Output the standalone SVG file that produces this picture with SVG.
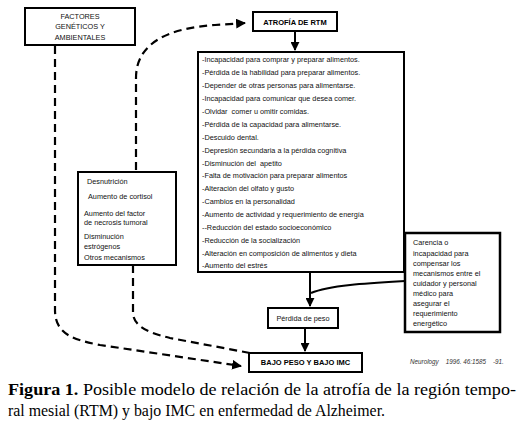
<svg xmlns="http://www.w3.org/2000/svg" width="523" height="425" viewBox="0 0 523 425">
<style>
.box{fill:#fff;stroke:#000;stroke-width:2}
.t{font-family:"Liberation Sans",Arial,sans-serif;font-size:7.3px;fill:#111}
.tb{font-family:"Liberation Sans",Arial,sans-serif;font-size:7.5px;font-weight:bold;fill:#000}
.dash{fill:none;stroke:#000;stroke-width:2.2;stroke-dasharray:8 5}
.solid{fill:none;stroke:#000;stroke-width:2}
.cap{font-family:"Liberation Serif","Times New Roman",serif;font-size:17px;fill:#000}
</style>
<defs>
<marker id="ah" viewBox="0 0 10 10" refX="9" refY="5" markerWidth="4.5" markerHeight="4.5" orient="auto" markerUnits="strokeWidth">
<path d="M0,0 L10,5 L0,10 Z" fill="#000"/>
</marker>
</defs>
<rect width="523" height="425" fill="#fff"/>
<g id="connectors">
<path class="dash" d="M55,46 L55,310 C55,335 75,340 100,345 L241,366" marker-end="url(#ah)"/>
<path class="dash" d="M133,265 L133,312 C133,325 145,332 170,338 L250,353"/>
<path class="dash" d="M136,170 L136,78 C136,42 170,28 215,25 L245,23" marker-end="url(#ah)"/>
<path class="solid" d="M295,31 L295,50" marker-end="url(#ah)"/>
<path class="solid" d="M310,272 L310,306" marker-end="url(#ah)"/>
<path class="solid" d="M405,281 C370,283 330,285 311,293"/>
<path class="solid" d="M305,328 L305,351" marker-end="url(#ah)"/>
</g>
<g id="factores">
<rect class="box" x="25" y="8" width="110" height="37"/>
<text class="t" text-anchor="middle" x="80" y="19">FACTORES</text>
<text class="t" text-anchor="middle" x="80" y="29">GENÉTICOS Y</text>
<text class="t" text-anchor="middle" x="80" y="40">AMBIENTALES</text>
</g>
<g id="atrofia">
<rect class="box" x="253" y="12" width="84" height="19"/>
<text class="tb" text-anchor="middle" x="295" y="24.5">ATROFÍA DE RTM</text>
</g>
<g id="lista">
<rect class="box" x="198" y="52" width="206" height="220"/>
<text class="t" x="202">
<tspan x="202" y="62">-Incapacidad para comprar y preparar alimentos.</tspan>
<tspan x="202" y="75">-Pérdida de la habilidad para preparar alimentos.</tspan>
<tspan x="202" y="88">-Depender de otras personas para alimentarse.</tspan>
<tspan x="202" y="101">-Incapacidad para comunicar que desea comer.</tspan>
<tspan x="202" y="114" style="white-space:pre">-Olvidar  comer u omitir comidas.</tspan>
<tspan x="202" y="126.5">-Pérdida de la capacidad para alimentarse.</tspan>
<tspan x="202" y="139.5">-Descuido dental.</tspan>
<tspan x="202" y="152.5">-Depresión secundaria a la pérdida cognitiva</tspan>
<tspan x="202" y="165.5" style="white-space:pre">-Disminución del  apetito</tspan>
<tspan x="202" y="178">-Falta de motivación para preparar alimentos</tspan>
<tspan x="202" y="191">-Alteración del olfato y gusto</tspan>
<tspan x="202" y="204">-Cambios en la personalidad</tspan>
<tspan x="202" y="217">-Aumento de actividad y requerimiento de energía</tspan>
<tspan x="202" y="229.5">--Reducción del estado socioeconómico</tspan>
<tspan x="202" y="242.5">-Reducción de la socialización</tspan>
<tspan x="202" y="255.5">-Alteración en composición de alimentos y dieta</tspan>
<tspan x="202" y="268">-Aumento del estrés</tspan>
</text>
</g>
<g id="mecanismos">
<rect class="box" x="78" y="172" width="98" height="93"/>
<text class="t" x="87" y="184">Desnutrición</text>
<text class="t" x="88" y="199">Aumento de cortisol</text>
<text class="t" x="84" y="216">Aumento del factor</text>
<text class="t" x="84" y="225">de necrosis tumoral</text>
<text class="t" x="84" y="239">Disminución</text>
<text class="t" x="84" y="248.5">estrógenos</text>
<text class="t" x="84" y="260">Otros mecanismos</text>
</g>
<g id="carencia">
<rect class="box" x="405" y="233" width="95" height="99" style="stroke-width:2.5"/>
<text class="t" x="413">
<tspan x="413" y="245">Carencia o</tspan>
<tspan x="413" y="255.5">incapacidad para</tspan>
<tspan x="413" y="265.5">compensar los</tspan>
<tspan x="413" y="276">mecanismos entre el</tspan>
<tspan x="413" y="285.5">cuidador y personal</tspan>
<tspan x="413" y="295.5">médico para</tspan>
<tspan x="413" y="305.5">asegurar el</tspan>
<tspan x="413" y="315.5">requerimiento</tspan>
<tspan x="413" y="326">energético</tspan>
</text>
</g>
<g id="perdida">
<rect class="box" x="268" y="308" width="70" height="20"/>
<text class="t" text-anchor="middle" x="303" y="321">Pérdida de peso</text>
</g>
<g id="bajopeso">
<rect class="box" x="249" y="353" width="113" height="19"/>
<text class="tb" text-anchor="middle" x="305.5" y="365">BAJO PESO Y BAJO IMC</text>
</g>
<text x="410" y="364" style="font-family:'Liberation Sans',Arial,sans-serif;font-size:6.3px;font-style:italic;fill:#333;white-space:pre">Neurology    1996. 46:1585    -91.</text>
<text class="cap" x="8" y="395" textLength="508" lengthAdjust="spacingAndGlyphs"><tspan font-weight="bold">Figura 1.</tspan> Posible modelo de relación de la atrofía de la región tempo-</text>
<text class="cap" x="8" y="416" textLength="377" lengthAdjust="spacingAndGlyphs">ral mesial (RTM) y bajo IMC en enfermedad de Alzheimer.</text>
</svg>
